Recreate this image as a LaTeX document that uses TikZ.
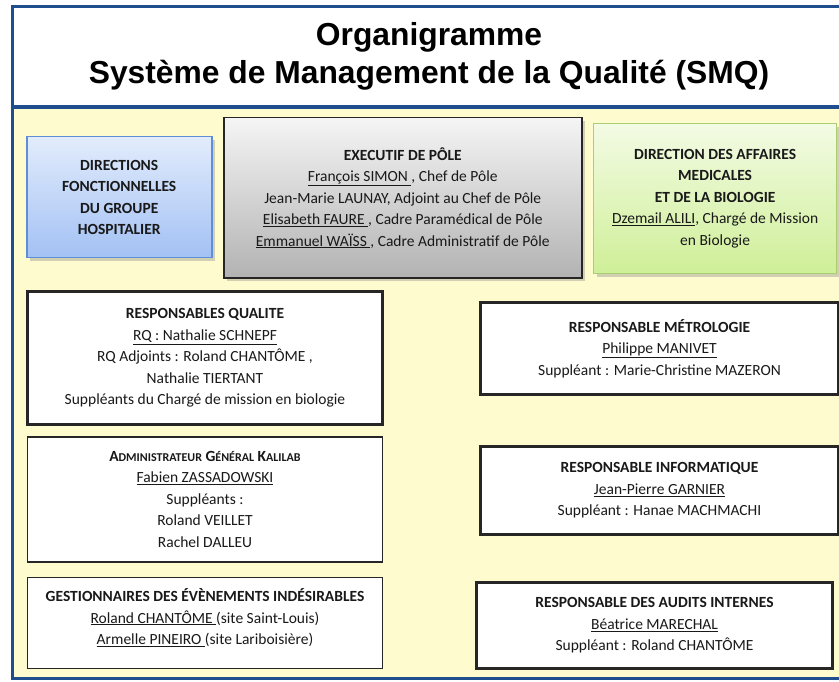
\documentclass[tikz,border=0pt]{standalone}
\usepackage{fontspec}
\setmainfont{Carlito}
\newfontfamily\titlefont{Liberation Sans}
\usetikzlibrary{positioning}
\usetikzlibrary{shadows}
\definecolor{cadreBleu}{HTML}{1F4E8F}
\definecolor{fondJaune}{HTML}{FEFCCF}
\definecolor{bleuHaut}{HTML}{E2ECFC}
\definecolor{bleuBas}{HTML}{A3C1F4}
\definecolor{bleuBord}{HTML}{5E8ED6}
\definecolor{vertHaut}{HTML}{F3FBE4}
\definecolor{vertBas}{HTML}{CFEF98}
\definecolor{vertBord}{HTML}{A9CF72}
\tikzstyle{boite} = [rectangle, anchor=north west, align=center, text=black!90, font={\fontsize{15.5}{21.5}\selectfont}]
\tikzstyle{epais} = [draw=black!85, line width=3pt, fill=white]
\tikzstyle{fin} = [draw=black!85, line width=1.6pt, fill=white]
\tikzstyle{ombre} = [drop shadow={opacity=0.35, shadow xshift=3pt, shadow yshift=-3pt}]
\tikzstyle{bleu} = [draw=bleuBord, line width=1.5pt, top color=bleuHaut, bottom color=bleuBas]
\tikzstyle{gris} = [draw=black!85, line width=1.5pt, top color=black!4, bottom color=black!30]
\tikzstyle{vert} = [draw=vertBord, line width=1.2pt, top color=vertHaut, bottom color=vertBas]
\newcommand{\nom}[1]{\underline{#1}}
\newcommand{\petit}[1]{{\fontsize{12}{12}\selectfont #1}}

\begin{document}
\begin{tikzpicture}[x=1pt, y=-1pt]
  \clip (0,0) rectangle (839,682);
  \fill[white] (0,0) rectangle (839,682);
  % cadre
  \fill[fondJaune] (12,107) rectangle (850,677);
  \draw[cadreBleu, line width=3pt] (850,7) -| (12.5,678) -- (850,678);
  \draw[cadreBleu, line width=4pt] (12,107.5) -- (850,107.5);
  \node[align=center, font={\titlefont\bfseries\fontsize{31.8}{38}\selectfont}] (titre) at (429,56)
    {Organigramme\\Système de Management de la Qualité (SMQ)};

  % ligne du haut
  \node[boite, bleu, ombre, minimum width=185pt, minimum height=121pt, font={\bfseries\fontsize{15.5}{21.5}\selectfont}] (dir_GH) at (26,136)
    {DIRECTIONS\\FONCTIONNELLES\\DU GROUPE\\HOSPITALIER};
  \node[boite, gris, ombre, minimum width=358pt, minimum height=160pt] (exec_P) at (223,117)
    {\textbf{EXECUTIF DE PÔLE}\\
     \nom{François SIMON }, Chef de Pôle\\
     Jean-Marie LAUNAY, Adjoint au Chef de Pôle\\
     \nom{Elisabeth FAURE }, Cadre Paramédical de Pôle\\
     \nom{Emmanuel WAÏSS }, Cadre Administratif de Pôle};
  \node[boite, vert, ombre, minimum width=243pt, minimum height=150pt] (dir_AM) at (593,123)
    {\textbf{DIRECTION DES AFFAIRES}\\\textbf{MEDICALES}\\\textbf{ET DE LA BIOLOGIE}\\
     \nom{Dzemail ALILI}, Chargé de Mission\\en Biologie};

  % colonne de gauche
  \node[boite, epais, minimum width=355pt, minimum height=133pt] (resp_Q) at (26,290)
    {\textbf{RESPONSABLES QUALITE}\\
     \nom{RQ : Nathalie SCHNEPF}\\
     RQ Adjoints : Roland CHANTÔME ,\\
     Nathalie TIERTANT\\
     Suppléants du Chargé de mission en biologie};
  \node[boite, fin, below=10pt of resp_Q, minimum width=355pt, minimum height=125pt] (admin_K)
    {\textbf{A\petit{DMINISTRATEUR} G\petit{ÉNÉRAL} K\petit{ALILAB}}\\
     \nom{Fabien ZASSADOWSKI}\\
     Suppléants :\\
     Roland VEILLET\\
     Rachel DALLEU};
  \node[boite, fin, below=14pt of admin_K, minimum width=355pt, minimum height=91pt] (gest_EI)
    {\textbf{GESTIONNAIRES DES ÉVÈNEMENTS INDÉSIRABLES}\\
     \nom{Roland CHANTÔME }(site Saint-Louis)\\
     \nom{Armelle PINEIRO }(site Lariboisière)\\[-9pt]};

  % colonne de droite
  \node[boite, epais, minimum width=358pt, minimum height=92pt] (resp_M) at (479,301)
    {\textbf{RESPONSABLE MÉTROLOGIE}\\
     \nom{Philippe MANIVET}\\
     Suppléant : Marie-Christine MAZERON};
  \node[boite, epais, below=49pt of resp_M, minimum width=358pt, minimum height=88pt] (resp_I)
    {\textbf{RESPONSABLE INFORMATIQUE}\\
     \nom{Jean-Pierre GARNIER}\\
     Suppléant : Hanae MACHMACHI};
  \node[boite, epais, minimum width=356pt, minimum height=86pt] (resp_A) at (475,581)
    {\textbf{RESPONSABLE DES AUDITS INTERNES}\\
     \nom{Béatrice MARECHAL}\\
     Suppléant : Roland CHANTÔME};
\end{tikzpicture}
\end{document}
